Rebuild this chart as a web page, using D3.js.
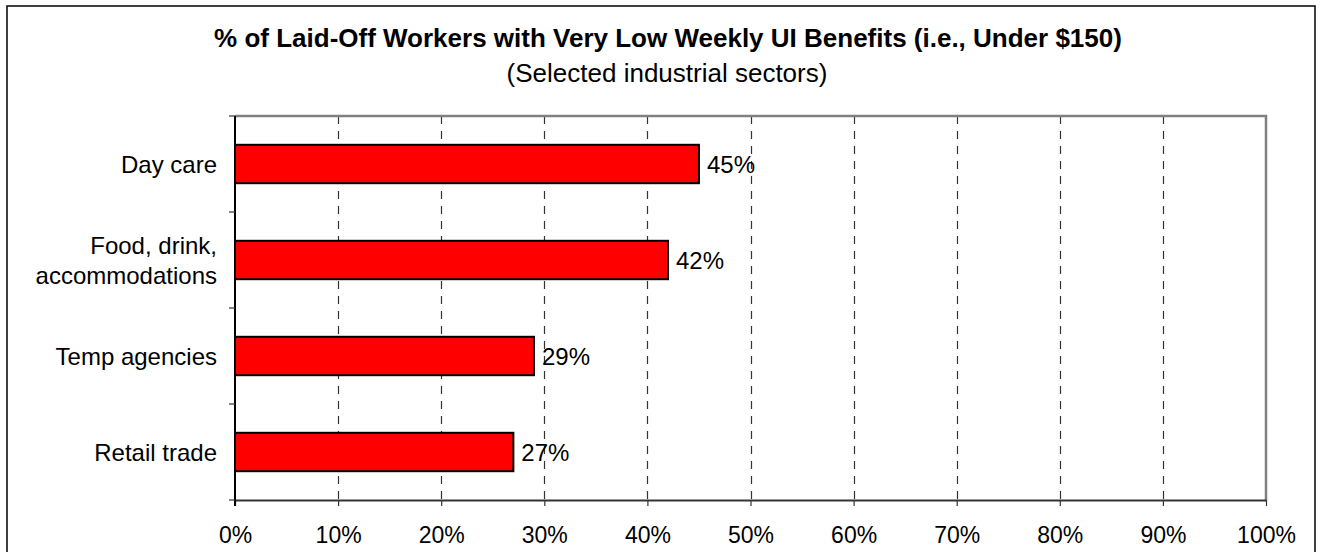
<!DOCTYPE html>
<html><head><meta charset="utf-8">
<script src="https://cdn.jsdelivr.net/npm/d3@7/dist/d3.min.js"></script>
<style>
html,body{margin:0;padding:0;background:#fff;}
svg{display:block;font-family:"Liberation Sans",Arial,sans-serif;}
</style></head>
<body>
<svg id="chart" width="1320" height="552"></svg>
<script>
const categories = ["Day care", "Food, drink,\naccommodations", "Temp agencies", "Retail trade"];
const values = [45, 42, 29, 27];
const xTicks = [0, 10, 20, 30, 40, 50, 60, 70, 80, 90, 100];
const title = "% of Laid-Off Workers with Very Low Weekly UI Benefits (i.e., Under $150)";
const subtitle = "(Selected industrial sectors)";

const svg = d3.select("#chart");
const m = {left: 235, right: 1266, top: 116, bottom: 500};

// outer border
svg.append("rect").attr("x", 7).attr("y", 6).attr("width", 1308).attr("height", 560)
  .attr("fill", "#fff").attr("stroke", "#000").attr("stroke-width", 1.5);

svg.append("text").attr("x", 668).attr("y", 47).attr("text-anchor", "middle")
  .attr("font-size", 26).attr("font-weight", "bold").text(title);
svg.append("text").attr("x", 667).attr("y", 82).attr("text-anchor", "middle")
  .attr("font-size", 26).text(subtitle);

const x = d3.scaleLinear().domain([0, 100]).range([m.left, m.right]);
const y = d3.scaleBand().domain(categories).range([m.top, m.bottom]).paddingInner(0.6).paddingOuter(0.3);
const yEdge = d3.scaleLinear().domain([0, categories.length]).range([m.top, m.bottom]);

// gridlines
svg.append("g").selectAll("line").data(xTicks.filter(t => t > 0 && t < 100)).join("line")
  .attr("x1", d => Math.round(x(d)) + 0.5).attr("x2", d => Math.round(x(d)) + 0.5)
  .attr("y1", m.top).attr("y2", m.bottom)
  .attr("stroke", "#333").attr("stroke-width", 1.2).attr("stroke-dasharray", "8,7");

// frame top/right (gray)
svg.append("path").attr("d", `M${m.left},${m.top}H${m.right}V${m.bottom}`)
  .attr("fill", "none").attr("stroke", "#808080").attr("stroke-width", 2.5);

// bars
svg.append("g").selectAll("rect").data(values).join("rect")
  .attr("x", x(0)).attr("y", (d, i) => y(categories[i]))
  .attr("width", d => x(d) - x(0)).attr("height", y.bandwidth())
  .attr("fill", "#ff0000").attr("stroke", "#000").attr("stroke-width", 2);

// value labels
svg.append("g").selectAll("text").data(values).join("text")
  .attr("x", d => x(d) + 8).attr("y", (d, i) => y(categories[i]) + y.bandwidth() / 2)
  .attr("dy", "0.36em").attr("font-size", 24).text(d => d + "%");

// x axis
const xAxis = d3.axisBottom(x).tickValues(xTicks).tickFormat(d => d + "%").tickSize(6).tickSizeOuter(0);
const gx = svg.append("g").attr("transform", `translate(0,${m.bottom})`).call(xAxis);
gx.select(".domain").attr("stroke", "#333").attr("stroke-width", 2);
gx.selectAll(".tick line").attr("stroke", "#333").attr("stroke-width", 1.2);
gx.selectAll(".tick text").attr("font-size", 23).attr("font-family", "Liberation Sans, Arial, sans-serif")
  .attr("fill", "#000").attr("y", 27).attr("dy", "0.71em");

// y axis line + ticks at band edges
svg.append("line").attr("x1", m.left).attr("x2", m.left).attr("y1", m.top).attr("y2", m.bottom + 6)
  .attr("stroke", "#000").attr("stroke-width", 2);
svg.append("g").selectAll("line").data(d3.range(categories.length + 1)).join("line")
  .attr("x1", m.left - 6).attr("x2", m.left).attr("y1", d => yEdge(d)).attr("y2", d => yEdge(d))
  .attr("stroke", "#333").attr("stroke-width", 1.2);

// category labels
const cl = svg.append("g").selectAll("text").data(categories).join("text")
  .attr("text-anchor", "end").attr("font-size", 24)
  .attr("transform", d => `translate(217,${y(d) + y.bandwidth() / 2})`);
cl.each(function(d) {
  const lines = d.split("\n");
  const t = d3.select(this);
  lines.forEach((ln, i) => {
    t.append("tspan").attr("x", 0)
      .attr("y", (i - (lines.length - 1) / 2) * 30)
      .attr("dy", "0.36em").text(ln);
  });
});
</script>
</body></html>
